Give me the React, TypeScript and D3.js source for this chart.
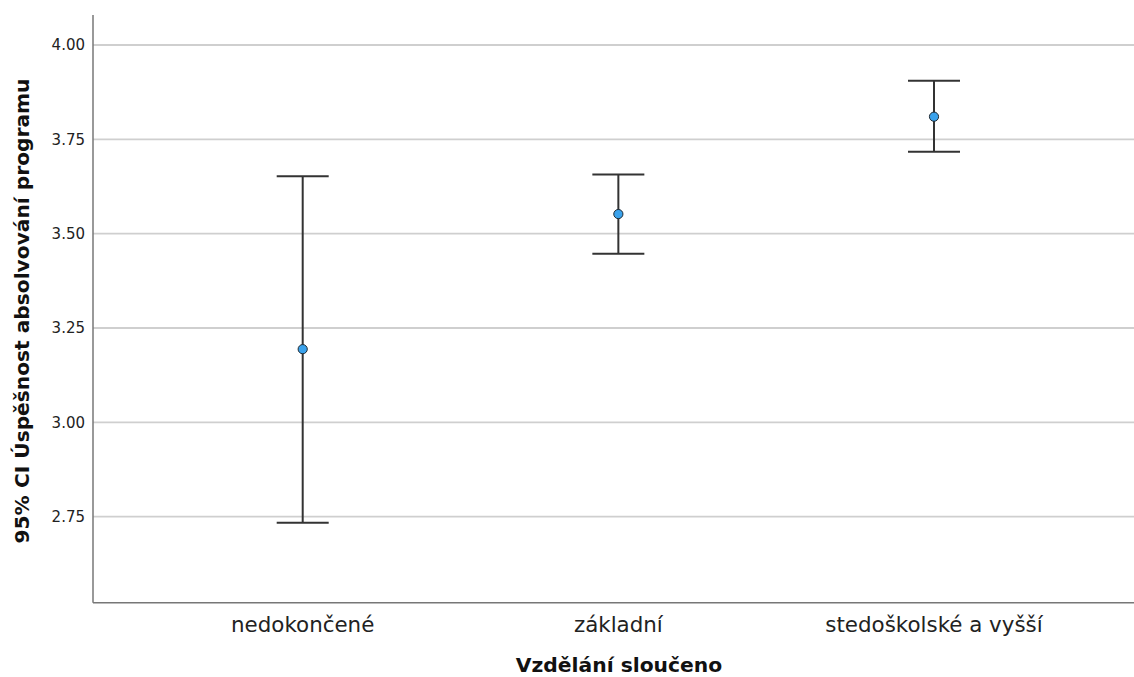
import React from "react";
import * as d3 from "d3";

const categories = ["nedokončené", "základní", "stedoškolské a vyšší"];
const means = [3.194, 3.552, 3.81];
const lower = [2.734, 3.447, 3.717];
const upper = [3.652, 3.657, 3.905];
const yTicks = [2.75, 3.0, 3.25, 3.5, 3.75, 4.0];
const yTitle = "95% CI Úspěšnost absolvování programu";
const xTitle = "Vzdělání sloučeno";

const W = 1134;
const H = 677;
const plotLeft = 93;
const plotRight = 1134;
const plotTop = 15;
const plotBottom = 602.7;

export default function App() {
  const y = d3.scaleLinear().domain([2.75, 4.0]).range([516.7, 45]);
  const x = d3.scalePoint<string>().domain(categories).range([302.7, 934]);
  const capHalf = 26;
  const font = "'DejaVu Sans', Verdana, sans-serif";

  return (
    <svg
      width={W}
      height={H}
      style={{ position: "absolute", left: 0, top: 0, background: "#fff" }}
    >
      <rect x={0} y={0} width={W} height={H} fill="#fff" />
      {yTicks.map((t) => (
        <g key={t}>
          <line
            x1={plotLeft}
            x2={plotRight}
            y1={y(t)}
            y2={y(t)}
            stroke="#cfcfcf"
            strokeWidth={1.8}
          />
          <text
            x={85}
            y={y(t)}
            dy="0.36em"
            textAnchor="end"
            fontFamily={font}
            fontSize={15}
            fill="#222"
          >
            {t.toFixed(2)}
          </text>
        </g>
      ))}
      <line x1={plotLeft} x2={plotLeft} y1={plotTop} y2={plotBottom} stroke="#777" strokeWidth={1.5} />
      <line x1={plotLeft} x2={plotRight} y1={plotBottom} y2={plotBottom} stroke="#777" strokeWidth={1.5} />
      {categories.map((c, i) => {
        const cx = x(c) as number;
        return (
          <g key={c}>
            <line x1={cx} x2={cx} y1={y(upper[i])} y2={y(lower[i])} stroke="#333" strokeWidth={2} />
            <line x1={cx - capHalf} x2={cx + capHalf} y1={y(upper[i])} y2={y(upper[i])} stroke="#333" strokeWidth={2} />
            <line x1={cx - capHalf} x2={cx + capHalf} y1={y(lower[i])} y2={y(lower[i])} stroke="#333" strokeWidth={2} />
            <circle cx={cx} cy={y(means[i])} r={4.6} fill="#3aa2ec" stroke="#1f2a33" strokeWidth={1} />
            <text
              x={cx}
              y={632}
              textAnchor="middle"
              fontFamily={font}
              fontSize={21.4}
              fill="#222"
            >
              {c}
            </text>
          </g>
        );
      })}
      <text
        x={619}
        y={672}
        textAnchor="middle"
        fontFamily={font}
        fontSize={20.3}
        fontWeight="bold"
        fill="#111"
      >
        {xTitle}
      </text>
      <text
        transform={`translate(29, 311) rotate(-90)`}
        textAnchor="middle"
        fontFamily={font}
        fontSize={20.2}
        fontWeight="bold"
        fill="#111"
      >
        {yTitle}
      </text>
    </svg>
  );
}
